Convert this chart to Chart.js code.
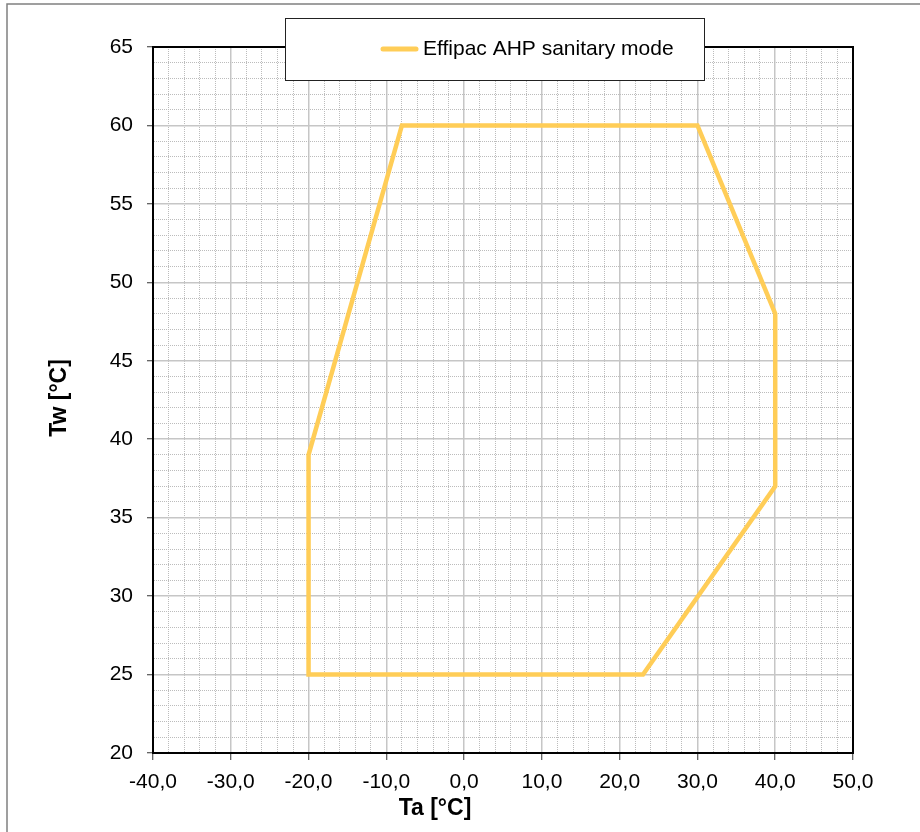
<!DOCTYPE html>
<html>
<head>
<meta charset="utf-8">
<title>Effipac AHP sanitary mode</title>
<script src="https://cdn.jsdelivr.net/npm/chart.js@4"></script>
<style>
  html, body { margin: 0; padding: 0; background: #fff; }
  #wrap { width: 920px; height: 832px; position: relative; }
</style>
</head>
<body>
<div id="wrap"><canvas id="envelope" width="920" height="832"></canvas></div>
<script>
// operating envelope, closed polygon
const taValues = [-20, 23, 40, 40, 30, -8, -20, -20];
const twValues = [25, 25, 37, 48, 60, 60, 39, 25];
const seriesLabel = 'Effipac AHP sanitary mode';
const xTitle = 'Ta [°C]';
const yTitle = 'Tw [°C]';
const xRange = [-40, 50];
const yRange = [20, 65];

const FONT = "'Liberation Sans', Arial, sans-serif";
const LINE_COLOR = '#FFCD57';

const isMajorX = (v) => v % 10 === 0;
const isMajorY = (v) => v % 5 === 0;

const gridOpts = (isMajor) => ({
  color: (c) => (c.tick && isMajor(c.tick.value) ? '#c6c6c6' : '#bcbcbc'),
  lineWidth: (c) => (c.tick && isMajor(c.tick.value) ? 1.5 : 1),
  drawTicks: true,
  tickLength: 7,
  tickColor: (c) => (c.tick && isMajor(c.tick.value) ? '#333' : 'rgba(0,0,0,0)'),
  tickWidth: 1,
  tickBorderDash: [],
});

const borderOpts = (isMajor) => ({
  display: true,
  color: '#000',
  width: 2,
  dash: (c) => (c.tick && !isMajor(c.tick.value) ? [1, 1] : []),
});

// frame, plot border, legend box and axis titles
const decorations = {
  id: 'decorations',
  beforeDraw(chart) {
    const { ctx } = chart;
    ctx.save();
    ctx.fillStyle = '#fff';
    ctx.fillRect(0, 0, chart.width, chart.height);
    ctx.strokeStyle = '#808080';
    ctx.lineWidth = 1.5;
    ctx.beginPath();
    ctx.moveTo(7, chart.height);
    ctx.lineTo(7, 4);
    ctx.lineTo(chart.width, 4);
    ctx.stroke();
    ctx.restore();
  },
  afterDatasetsDraw(chart) {
    const { ctx, chartArea: a } = chart;
    ctx.save();
    ctx.strokeStyle = '#000';
    ctx.lineWidth = 2;
    ctx.strokeRect(a.left, a.top, a.right - a.left, a.bottom - a.top);
    ctx.restore();
  },
  afterDraw(chart) {
    const { ctx } = chart;
    const ds = chart.data.datasets[0];
    ctx.save();
    // legend
    ctx.fillStyle = '#fff';
    ctx.fillRect(285, 18, 419, 62);
    ctx.strokeStyle = '#222';
    ctx.lineWidth = 1;
    ctx.strokeRect(285.5, 18.5, 419, 62);
    ctx.strokeStyle = ds.borderColor;
    ctx.lineWidth = 5;
    ctx.lineCap = 'round';
    ctx.beginPath();
    ctx.moveTo(383, 49);
    ctx.lineTo(416, 49);
    ctx.stroke();
    ctx.fillStyle = '#000';
    ctx.font = `21px ${FONT}`;
    ctx.textAlign = 'left';
    ctx.textBaseline = 'middle';
    ctx.fillText(ds.label, 423, 49);
    // axis titles
    ctx.font = `bold 23px ${FONT}`;
    ctx.textAlign = 'center';
    ctx.fillText(xTitle, 435, 809);
    ctx.translate(60, 398);
    ctx.rotate(-Math.PI / 2);
    ctx.fillText(yTitle, 0, 0);
    ctx.restore();
  },
};

new Chart(document.getElementById('envelope'), {
  type: 'scatter',
  data: {
    datasets: [
      {
        label: seriesLabel,
        data: taValues.map((x, i) => ({ x, y: twValues[i] })),
        showLine: true,
        borderColor: LINE_COLOR,
        backgroundColor: LINE_COLOR,
        borderWidth: 4.5,
        borderJoinStyle: 'miter',
        borderCapStyle: 'square',
        pointRadius: 0,
        pointHoverRadius: 0,
        tension: 0,
      },
    ],
  },
  options: {
    responsive: false,
    animation: false,
    events: [],
    layout: { padding: { left: 0, top: 47, right: 67, bottom: 0 } },
    plugins: {
      legend: { display: false },
      tooltip: { enabled: false },
    },
    scales: {
      x: {
        type: 'linear',
        min: xRange[0],
        max: xRange[1],
        afterFit: (s) => { s.height = 79; },
        ticks: {
          stepSize: 2,
          autoSkip: false,
          maxRotation: 0,
          padding: 10,
          color: '#000',
          font: { family: FONT, size: 21 },
          callback: (v) => (isMajorX(v) ? v.toFixed(1).replace('.', ',') : ''),
        },
        grid: gridOpts(isMajorX),
        border: borderOpts(isMajorX),
      },
      y: {
        type: 'linear',
        min: yRange[0],
        max: yRange[1],
        afterFit: (s) => { s.width = 153; },
        ticks: {
          stepSize: 1,
          autoSkip: false,
          padding: 14,
          color: '#000',
          font: { family: FONT, size: 21 },
          callback: (v) => (isMajorY(v) ? String(v) : ''),
        },
        grid: { ...gridOpts(isMajorY), tickLength: 6 },
        border: borderOpts(isMajorY),
      },
    },
  },
  plugins: [decorations],
});
</script>
</body>
</html>
